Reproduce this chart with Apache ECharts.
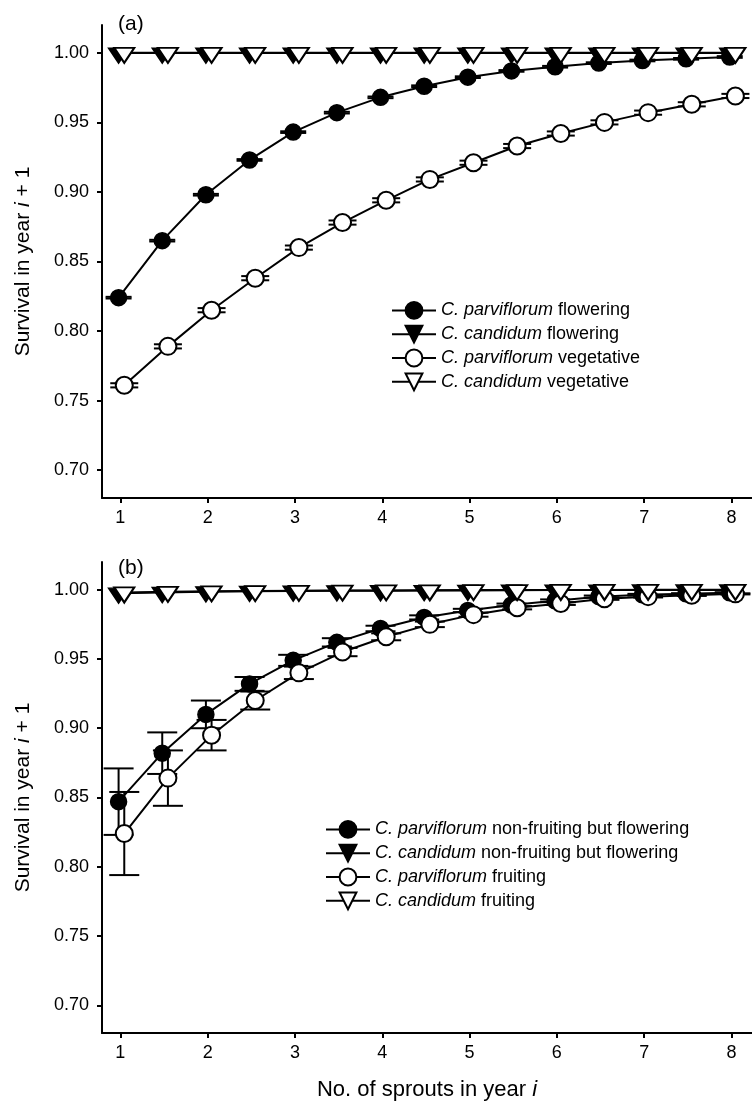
<!DOCTYPE html>
<html><head><meta charset="utf-8">
<script src="https://cdn.jsdelivr.net/npm/echarts@6.0.0/dist/echarts.min.js"></script>
<style>html,body{margin:0;padding:0;background:#fff}#c{width:752px;height:1102px}</style>
</head><body><div id="c"></div>
<script>
// ---------- data ----------
const sprouts = [1, 1.5, 2, 2.5, 3, 3.5, 4, 4.5, 5, 5.5, 6, 6.5, 7, 7.5, 8];
const xTicks = [1, 2, 3, 4, 5, 6, 7, 8];
const yTicks = [0.70, 0.75, 0.80, 0.85, 0.90, 0.95, 1.00];

// Panel (a)
const aParvFlowering    = [0.824, 0.865, 0.898, 0.923, 0.943, 0.957, 0.968, 0.976, 0.9825, 0.987, 0.990, 0.9926, 0.9945, 0.9957, 0.997];
const aParvFloweringErr = [0.0006, 0.0006, 0.0006, 0.0006, 0.0006, 0.0006, 0.0006, 0.0006, 0.0006, 0.0006, 0.0006, 0.0006, 0.0006, 0.0006, 0.0006];
const aCandFlowering    = [0.9998, 0.9998, 0.9998, 0.9998, 0.9998, 0.9998, 0.9998, 0.9998, 0.9998, 0.9998, 0.9998, 0.9998, 0.9998, 0.9998, 0.9998];
const aParvVegetative   = [0.761, 0.789, 0.815, 0.838, 0.860, 0.878, 0.894, 0.909, 0.921, 0.933, 0.942, 0.950, 0.957, 0.963, 0.969];
const aParvVegetativeErr= [0.0015, 0.0015, 0.0015, 0.0015, 0.0015, 0.0015, 0.0015, 0.0015, 0.0015, 0.0015, 0.0015, 0.0015, 0.0015, 0.0015, 0.0015];
const aCandVegetative   = [1.000, 1.000, 1.000, 1.000, 1.000, 1.000, 1.000, 1.000, 1.000, 1.000, 1.000, 1.000, 1.000, 1.000, 1.000];

// Panel (b)
const bParvNonFruiting    = [0.847, 0.882, 0.910, 0.932, 0.949, 0.962, 0.972, 0.980, 0.985, 0.989, 0.992, 0.995, 0.9964, 0.997, 0.9978];
const bParvNonFruitingErr = [0.024, 0.015, 0.010, 0.005, 0.004, 0.003, 0.002, 0.0015, 0.0012, 0.001, 0.001, 0.0008, 0.0006, 0.0005, 0.0004];
const bCandNonFruiting    = [0.9975, 0.998, 0.9985, 0.9988, 0.999, 0.9992, 0.9993, 0.9994, 0.9995, 0.9996, 0.9997, 0.9997, 0.9998, 0.9998, 0.9998];
const bParvFruiting       = [0.824, 0.864, 0.895, 0.920, 0.940, 0.955, 0.966, 0.975, 0.982, 0.987, 0.990, 0.9935, 0.995, 0.996, 0.997];
const bParvFruitingErr    = [0.030, 0.020, 0.011, 0.0065, 0.0045, 0.003, 0.0025, 0.002, 0.0015, 0.0012, 0.001, 0.0008, 0.0006, 0.0005, 0.0004];
const bCandFruiting       = [0.998, 0.9985, 0.9988, 0.999, 0.9992, 0.9994, 0.9995, 0.9996, 0.9997, 0.9997, 0.9998, 0.9998, 0.9999, 0.9999, 0.9999];

const legendA = ['C. parviflorum flowering', 'C. candidum flowering', 'C. parviflorum vegetative', 'C. candidum vegetative'];
const legendB = ['C. parviflorum non-fruiting but flowering', 'C. candidum non-fruiting but flowering', 'C. parviflorum fruiting', 'C. candidum fruiting'];

// ---------- styling ----------
const FONT = "'Liberation Sans', Arial, sans-serif";
const DODGE_FILLED = -0.02, DODGE_OPEN = 0.045;
const TRI = 'path://M0,0 L20,0 L10,15 Z';

const markers = {
  filledCircle: { symbol: 'circle', symbolSize: 16, itemStyle: { color: '#000', borderColor: '#000', borderWidth: 1.5 } },
  openCircle:   { symbol: 'circle', symbolSize: 17, itemStyle: { color: '#fff', borderColor: '#000', borderWidth: 2 } },
  filledTri:    { symbol: TRI, symbolSize: [20, 15], symbolOffset: [0, 2.5], itemStyle: { color: '#000', borderColor: '#000', borderWidth: 1.5 } },
  openTri:      { symbol: TRI, symbolSize: [20, 15], symbolOffset: [0, 2.5], itemStyle: { color: '#fff', borderColor: '#000', borderWidth: 2 } }
};

function lineSeries(name, gi, ys, dodge, kind) {
  const m = markers[kind];
  return Object.assign({
    type: 'line', name, xAxisIndex: gi, yAxisIndex: gi, z: 3,
    data: sprouts.map((x, i) => [x + dodge, ys[i]]),
    showSymbol: true, showAllSymbol: true, clip: false,
    lineStyle: { color: '#000', width: 2 },
    emphasis: { disabled: true }, animation: false
  }, m);
}

function errSeries(gi, ys, errs, dodge, half) {
  return {
    type: 'custom', xAxisIndex: gi, yAxisIndex: gi, z: 2, silent: true, animation: false,
    data: sprouts.map((x, i) => [x + dodge, ys[i] - errs[i], ys[i] + errs[i]]),
    encode: { x: 0, y: [1, 2] },
    renderItem: (params, api) => {
      const lo = api.coord([api.value(0), api.value(1)]);
      const hi = api.coord([api.value(0), api.value(2)]);
      const st = { stroke: '#000', lineWidth: 2 };
      return { type: 'group', children: [
        { type: 'line', shape: { x1: lo[0], y1: lo[1], x2: hi[0], y2: hi[1] }, style: st },
        { type: 'line', shape: { x1: lo[0] - half, y1: lo[1], x2: lo[0] + half, y2: lo[1] }, style: st },
        { type: 'line', shape: { x1: hi[0] - half, y1: hi[1], x2: hi[0] + half, y2: hi[1] }, style: st }
      ]};
    }
  };
}

function xAxis(gi, withName) {
  const ax = {
    type: 'value', gridIndex: gi, min: 0.79, max: 8.235,
    axisLine: { show: true, onZero: false, lineStyle: { color: '#000', width: 2 } },
    axisTick: { show: true, customValues: xTicks, length: 5, lineStyle: { color: '#000', width: 2 } },
    axisLabel: { customValues: xTicks, color: '#000', fontSize: 18, fontFamily: FONT, margin: 11 },
    splitLine: { show: false }
  };
  if (withName) {
    ax.name = 'No. of sprouts in year {i|i}';
    ax.nameLocation = 'middle';
    ax.nameGap = 46;
    ax.nameTextStyle = { color: '#000', fontSize: 22, fontFamily: FONT,
      rich: { i: { fontStyle: 'italic', fontSize: 22, color: '#000', fontFamily: FONT } } };
  }
  return ax;
}

function yAxis(gi) {
  return {
    type: 'value', gridIndex: gi, min: 0.68, max: 1.02,
    axisLine: { show: true, onZero: false, lineStyle: { color: '#000', width: 2 } },
    axisTick: { show: true, customValues: yTicks, length: 5, lineStyle: { color: '#000', width: 2 } },
    axisLabel: { customValues: yTicks, color: '#000', fontSize: 18, fontFamily: FONT, margin: 13,
      formatter: v => v.toFixed(2) },
    splitLine: { show: false },
    name: 'Survival in year {i|i} + 1', nameLocation: 'middle', nameGap: 68,
    nameTextStyle: { color: '#000', fontSize: 21, fontFamily: FONT,
      rich: { i: { fontStyle: 'italic', fontSize: 21, color: '#000', fontFamily: FONT } } }
  };
}

function legend(names, left, top) {
  return {
    data: names, orient: 'vertical', left, top,
    itemWidth: 44, itemHeight: 21, itemGap: 5,
    selectedMode: false,
    lineStyle: { width: 2, color: '#000' },
    formatter: n => n.replace(/^(C\. \w+)/, '{i|$1}'),
    textStyle: { color: '#000', fontSize: 18, fontFamily: FONT,
      rich: { i: { fontStyle: 'italic', fontSize: 18, color: '#000', fontFamily: FONT } } }
  };
}

const option = {
  backgroundColor: '#fff',
  animation: false,
  textStyle: { fontFamily: FONT },
  title: [
    { text: '(a)', left: 113, top: 9, textStyle: { fontSize: 21, fontWeight: 'normal', color: '#000', fontFamily: FONT } },
    { text: '(b)', left: 113, top: 553, textStyle: { fontSize: 21, fontWeight: 'normal', color: '#000', fontFamily: FONT } }
  ],
  grid: [
    { left: 102, top: 25, width: 650, height: 473, containLabel: false },
    { left: 102, top: 562, width: 650, height: 473, containLabel: false }
  ],
  xAxis: [xAxis(0, false), xAxis(1, true)],
  yAxis: [yAxis(0), yAxis(1)],
  legend: [legend(legendA, 386, 296), legend(legendB, 320, 815)],
  series: [
    errSeries(0, aParvFlowering, aParvFloweringErr, DODGE_FILLED, 13),
    errSeries(0, aParvVegetative, aParvVegetativeErr, DODGE_OPEN, 14),
    lineSeries(legendA[0], 0, aParvFlowering, DODGE_FILLED, 'filledCircle'),
    lineSeries(legendA[1], 0, aCandFlowering, DODGE_FILLED, 'filledTri'),
    lineSeries(legendA[2], 0, aParvVegetative, DODGE_OPEN, 'openCircle'),
    lineSeries(legendA[3], 0, aCandVegetative, DODGE_OPEN, 'openTri'),

    errSeries(1, bParvNonFruiting, bParvNonFruitingErr, DODGE_FILLED, 15),
    errSeries(1, bParvFruiting, bParvFruitingErr, DODGE_OPEN, 15),
    lineSeries(legendB[0], 1, bParvNonFruiting, DODGE_FILLED, 'filledCircle'),
    lineSeries(legendB[1], 1, bCandNonFruiting, DODGE_FILLED, 'filledTri'),
    lineSeries(legendB[2], 1, bParvFruiting, DODGE_OPEN, 'openCircle'),
    lineSeries(legendB[3], 1, bCandFruiting, DODGE_OPEN, 'openTri')
  ]
};

const chart = echarts.init(document.getElementById('c'), null, { renderer: 'canvas' });
chart.setOption(option);
</script>
</body></html>
